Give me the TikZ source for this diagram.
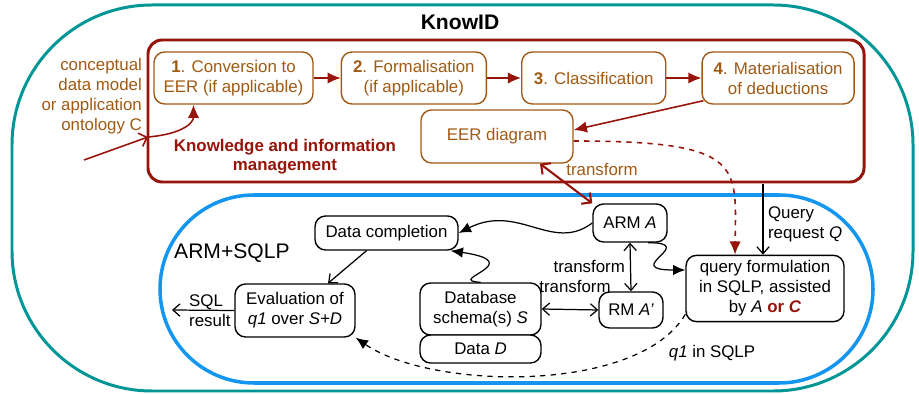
\documentclass[tikz,border=0pt]{standalone}
\usepackage{fontspec}
\setmainfont{Liberation Sans}
\usetikzlibrary{arrows.meta, positioning}
\definecolor{kidteal}{RGB}{0,150,150}
\definecolor{kidblue}{RGB}{20,150,240}
\definecolor{kidred}{RGB}{150,20,10}
\definecolor{kidbrown}{RGB}{160,90,20}
\tikzset{
  stepbox/.style  = {draw=kidbrown, text=kidbrown, rounded corners=6pt, fill=white,
                     align=center, line width=0.8pt, minimum height=1.04cm, inner sep=3pt},
  dbox/.style     = {draw=black, rounded corners=6pt, fill=white,
                     align=center, line width=0.8pt, inner sep=3pt},
  redarrow/.style = {-{Latex[length=7.5pt,width=6.5pt]}, draw=kidred, line width=0.9pt},
  redopen/.style  = {-{Straight Barb[length=4pt,width=8pt]}, draw=kidred, line width=0.9pt},
  redboth/.style  = {{Straight Barb[length=4pt,width=8pt]}-{Straight Barb[length=4pt,width=8pt]},
                     draw=kidred, line width=1.2pt},
  blkarrow/.style = {-{Latex[length=7pt,width=6pt]}, line width=0.7pt},
  blkopen/.style  = {-{Straight Barb[length=4pt,width=7pt]}, line width=0.7pt},
  blkboth/.style  = {{Straight Barb[length=4pt,width=7pt]}-{Straight Barb[length=4pt,width=7pt]},
                     line width=0.7pt},
}

\begin{document}
\begin{tikzpicture}[x=0.02cm, y=-0.02cm, every node/.style={font=\fontsize{9.6}{11.4}\selectfont}]
  \useasboundingbox (0,0) rectangle (919,394);

  % frames
  \draw[kidteal, line width=1.7pt, rounded corners=2.8cm] (12,5) rectangle (913,391);
  \draw[kidred, line width=1.7pt, rounded corners=8pt] (148,40) rectangle (864,182);
  \draw[kidblue, line width=2pt, rounded corners=1.88cm] (160,195) rectangle (873,383);

  \node[font=\fontsize{12}{14}\selectfont\bfseries] (knowid) at (460,22) {KnowID};
  \node[font=\fontsize{12}{14}\selectfont, anchor=west] (armsqlp) at (168,253) {ARM+SQLP};

  % knowledge and information management
  \node[stepbox, minimum width=3.18cm] (conv) at (233.5,78) {\textbf{1}. Conversion to\\EER (if applicable)};
  \node[stepbox, minimum width=2.9cm, right=0.54cm of conv] (formal) {\textbf{2}. Formalisation\\(if applicable)};
  \node[stepbox, minimum width=2.88cm, right=0.68cm of formal] (classif) {\textbf{3}. Classification};
  \node[stepbox, minimum width=3.04cm, right=0.7cm of classif] (mater) {\textbf{4}. Materialisation\\of deductions};
  \node[stepbox, minimum width=3.04cm, minimum height=1.06cm] (eer) at (497,136.5) {EER diagram};
  \node[text=kidbrown, align=right, anchor=east, inner sep=1pt] (cdm) at (144,96)
    {conceptual\\data model\\or application\\ontology C};
  \node[text=kidred, font=\fontsize{9.6}{11}\selectfont\bfseries, align=center] (kim) at (285,156.5)
    {Knowledge and information\\management};
  \node[text=kidbrown] (trlab) at (602,169) {transform};

  \coordinate (cin) at (84,160);
  \coordinate (cedge) at (148,137);
  \draw[redopen] (cin) -- (cedge);
  \draw[redarrow] (cedge) .. controls +(35,-3) and +(0,18) .. ([xshift=-0.8cm]conv.south);
  \draw[redarrow] (conv) -- (formal);
  \draw[redarrow] (formal) -- (classif);
  \draw[redarrow] (classif) -- (mater);
  \draw[redarrow] ([xshift=0.04cm,yshift=0.08cm]mater.south west) -- ([yshift=0.13cm]eer.east);

  % ARM+SQLP
  \node[dbox, minimum width=2.86cm, minimum height=0.68cm] (datacomp) at (386.5,233) {Data completion};
  \node[dbox, minimum width=2.4cm, minimum height=1.06cm] (evalq) at (295,310.5)
    {Evaluation of\\\textit{q1} over \textit{S+D}};
  \node[dbox, minimum width=2.42cm, minimum height=1.04cm] (dbschema) at (480.5,309)
    {Database\\schema(s) \textit{S}};
  \node[dbox, minimum width=2.42cm, minimum height=0.56cm, below=-0.8pt of dbschema] (datad) {Data \textit{D}};
  \node[dbox, minimum width=1.48cm, minimum height=0.76cm] (armA) at (630,223) {ARM \textit{A}};
  \node[dbox, minimum width=1.28cm, minimum height=0.72cm] (rmA) at (631,310) {RM \textit{A'}};
  \node[dbox, minimum width=3.16cm, minimum height=1.18cm] (queryf) at (765,288.5)
    {query formulation\\in SQLP, assisted\\by \textit{A} \textcolor{kidred}{\textbf{or \textit{C}}}};

  \node[align=left, anchor=east, inner sep=2pt] (sqlres) at (evalq.west) {SQL\\result};
  \node[anchor=east, inner sep=1pt] (trlab1) at (627,266) {transform};
  \node[inner sep=1pt] (trlab2) at (575,286) {transform};
  \node[align=left, anchor=west, inner sep=1pt] (qreq) at (766,224) {Query\\request \textit{Q}};
  \node[inner sep=1pt] (q1lab) at (712,353) {\textit{q1} in SQLP};

  \coordinate (sqlout) at (172,310);
  \coordinate (qtop) at (763,184);
  \draw[blkopen] (evalq.west) -- (sqlout);
  \draw[blkopen] ([xshift=-0.4cm]datacomp.south) -- ([xshift=0.66cm]evalq.north);
  \draw[blkarrow] (armA.west) .. controls +(-40,30) and +(60,-30) .. (datacomp.east);
  \draw[blkarrow] (dbschema.north) .. controls +(-37,-2) and +(80,12) .. ([xshift=-0.16cm]datacomp.south east);
  \draw[blkarrow] ([xshift=0.36cm]armA.south) .. controls +(52,0) and +(-66,0) .. ([yshift=0.37cm]queryf.west);
  \draw[blkboth] (armA.south) -- (rmA.north);
  \draw[blkboth] (dbschema.east) -- (rmA.west);
  \draw[blkopen] (qtop) -- (qtop |- queryf.north);
  \draw[blkarrow, dashed] ([yshift=0.16cm]queryf.south west) .. controls +(-47,80) and +(75,52) .. (evalq.south east);

  % links between the two parts
  \draw[redboth] ([xshift=0.86cm]eer.south) -- (armA.north west);
  \draw[redarrow, dashed] ([yshift=-0.09cm]eer.east) .. controls (745,141) and (736,165) .. ([xshift=-0.6cm]queryf.north);
\end{tikzpicture}
\end{document}
